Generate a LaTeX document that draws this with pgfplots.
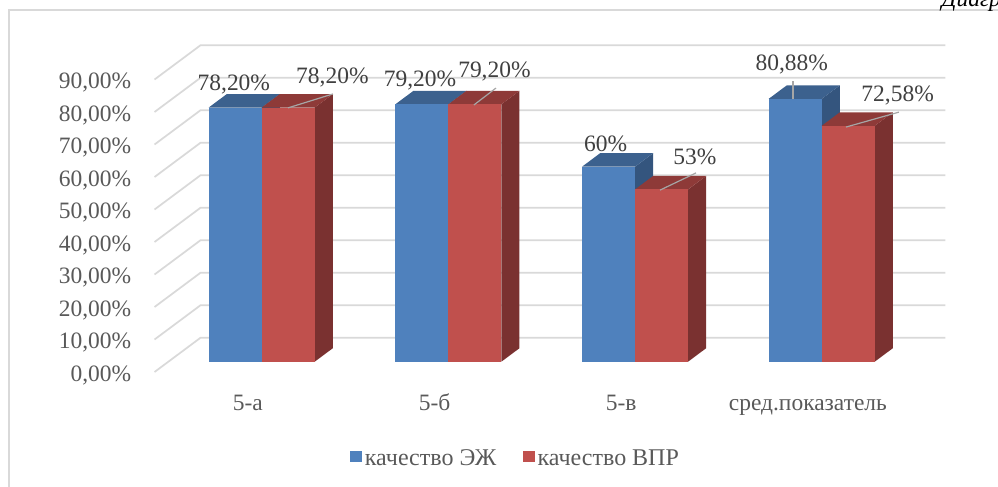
\documentclass[border=0pt]{standalone}
\usepackage{fontspec}
\setmainfont{Liberation Serif}
\usepackage{pgfplots}
\pgfplotsset{compat=1.18}

\definecolor{blueF}{HTML}{4F81BD}
\definecolor{blueT}{HTML}{3C618E}
\definecolor{blueS}{HTML}{34557E}
\definecolor{redF}{HTML}{C0504D}
\definecolor{redT}{HTML}{8E3A38}
\definecolor{redS}{HTML}{7A3130}
\definecolor{gridc}{HTML}{D9D9D9}
\definecolor{tickc}{HTML}{595959}
\definecolor{labc}{HTML}{404040}
\definecolor{leadc}{HTML}{A6A6A6}

\newcommand{\fsz}{\fontsize{17.6}{21}\selectfont}

% side and top of one 3D bar: x from #1 to #2, value #3, colour prefix #4
\newcommand{\barside}[4]{%
  \addplot3[fill=#4S, draw=none, forget plot] coordinates {(#2,0.3,0) (#2,0.694,0) (#2,0.694,#3) (#2,0.3,#3)} --cycle;
  \addplot3[fill=#4T, draw=none, forget plot] coordinates {(#1,0.3,#3) (#2,0.3,#3) (#2,0.694,#3) (#1,0.694,#3)} --cycle;
}
% front face: options #1, x from #2 to #3, value #4
\newcommand{\barfront}[4]{%
  \addplot3[draw=none, #1] coordinates {(#2,0.3,0) (#3,0.3,0) (#3,0.3,#4) (#2,0.3,#4)} --cycle;
}
\newcommand{\leader}[4]{%
  \addplot3[leadc, line width=0.9pt, forget plot] coordinates {(#1,0.3,#2) (#3,0.3,#4)};
}
\newcommand{\lab}[3]{\node[labc, font=\fsz, inner sep=0pt] at (axis cs:#1,0.3,#2) {#3};}

\begin{document}
\begin{tikzpicture}
\path[use as bounding box] (0,0) rectangle (748.5pt,364.5pt);
\clip (0,0) rectangle (748.5pt,364.5pt);
\draw[gridc, line width=1.3pt] (6.9pt,-2pt) -- (6.9pt,357pt) -- (752pt,357pt);
\node[anchor=base west, inner sep=0pt, font=\itshape\fsz] at (706pt,359.3pt) {Диаграмма};
\begin{axis}[
    at={(115.9pt,85.5pt)},
    anchor=origin,
    x={(140.0pt,0pt)},
    y={(34.5pt,25.7pt)},
    z={(0pt,2.4375pt)},
    xmin=0, xmax=3.99,
    ymin=0, ymax=1,
    zmin=0, zmax=90,
    clip=false,
    axis line style={draw=none},
    tick style={draw=none},
    ytick=\empty,
    xtick={0.5,1.5,2.5,3.5},
    xticklabels={5-а,5-б,5-в,сред.показатель},
    ztick={0,10,...,90},
    zticklabels={{0,00\%},{10,00\%},{20,00\%},{30,00\%},{40,00\%},{50,00\%},{60,00\%},{70,00\%},{80,00\%},{90,00\%}},
    tick label style={font=\fsz, text=tickc},
    x tick label style={anchor=base, yshift=-28.5pt},
    z tick label style={anchor=east, xshift=-14pt, yshift=-2.5pt},
    legend columns=2,
    legend style={draw=none, fill=none, font=\fontsize{18}{21}\selectfont, text=tickc,
        at={(0.457,-0.266)}, anchor=center,
        /tikz/every even column/.append style={column sep=18pt}},
    legend image code/.code={\fill[#1] (-1.5pt,-2.6pt) rectangle (7.5pt,6pt);},
]
% walls
\pgfplotsinvokeforeach{0,10,...,90}{
  \addplot3[gridc, line width=1.3pt, forget plot] coordinates {(0,0,#1) (0,1,#1) (3.99,1,#1)};
}

% 5-а
\barside{0.216}{0.5}{78.2}{blue}
\barfront{fill=blueF}{0.216}{0.5}{78.2}
\addlegendentry{качество ЭЖ}
\barside{0.5}{0.784}{78.2}{red}
\barfront{fill=redF}{0.5}{0.784}{78.2}
\addlegendentry{качество ВПР}
% 5-б
\barside{1.216}{1.5}{79.2}{blue}
\barfront{fill=blueF, forget plot}{1.216}{1.5}{79.2}
\barside{1.5}{1.784}{79.2}{red}
\barfront{fill=redF, forget plot}{1.5}{1.784}{79.2}
% 5-в
\barside{2.216}{2.5}{60}{blue}
\barfront{fill=blueF, forget plot}{2.216}{2.5}{60}
\barside{2.5}{2.784}{53}{red}
\barfront{fill=redF, forget plot}{2.5}{2.784}{53}
% сред.показатель
\barside{3.216}{3.5}{80.88}{blue}
\barfront{fill=blueF, forget plot}{3.216}{3.5}{80.88}
\barside{3.5}{3.784}{72.58}{red}
\barfront{fill=redF, forget plot}{3.5}{3.784}{72.58}

% leader lines
\leader{0.641}{78.1}{0.882}{82.4}
\leader{1.637}{79.0}{1.755}{84.2}
\leader{2.634}{52.8}{2.827}{58.1}
\leader{3.346}{80.8}{3.346}{86.4}
\leader{3.630}{72.2}{3.914}{76.8}

% data labels
\lab{0.351}{85.4}{78,20\%}
\lab{0.879}{87.6}{78,20\%}
\lab{1.348}{86.4}{79,20\%}
\lab{1.747}{89.3}{79,20\%}
\lab{2.343}{67.0}{60\%}
\lab{2.821}{63.1}{53\%}
\lab{3.340}{91.6}{80,88\%}
\lab{3.907}{81.8}{72,58\%}
\end{axis}
\end{tikzpicture}
\end{document}
